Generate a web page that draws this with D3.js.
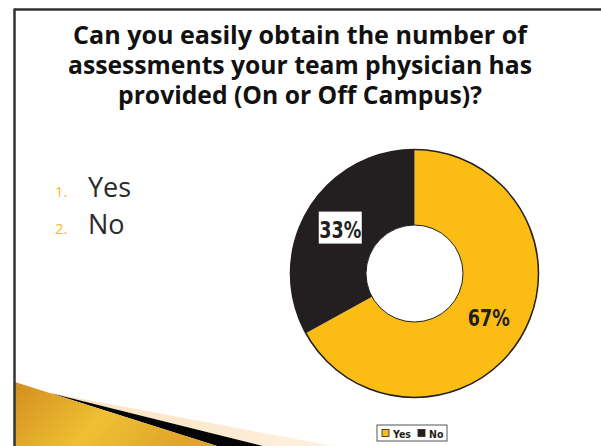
<!DOCTYPE html>
<html>
<head>
<meta charset="utf-8">
<script src="https://cdn.jsdelivr.net/npm/d3@7"></script>
<style>
  html, body { margin: 0; padding: 0; background: #fff; }
  svg { display: block; }
</style>
</head>
<body>
<svg id="slide" width="601" height="446"></svg>
<script>
// Survey answers and their shares (percent)
const categories = ["Yes", "No"];
const values = [67, 33];
const titleLines = [
  "Can you easily obtain the number of",
  "assessments your team physician has",
  "provided (On or Off Campus)?"
];
const listItems = ["Yes", "No"];

const W = 601, H = 446;
const svg = d3.select("#slide");

const defs = svg.append("defs");
const gold = defs.append("linearGradient").attr("id", "goldGrad")
  .attr("x1", "0%").attr("y1", "0%").attr("x2", "100%").attr("y2", "30%");
gold.append("stop").attr("offset", "0%").attr("stop-color", "#D38E1F");
gold.append("stop").attr("offset", "55%").attr("stop-color", "#EFC033");
gold.append("stop").attr("offset", "100%").attr("stop-color", "#E0A52A");
const peach = defs.append("linearGradient").attr("id", "peachGrad")
  .attr("x1", "0%").attr("y1", "0%").attr("x2", "100%").attr("y2", "0%");
peach.append("stop").attr("offset", "0%").attr("stop-color", "#FBE2BD");
peach.append("stop").attr("offset", "100%").attr("stop-color", "#FDF1DF");

// Decorative swoosh in the lower-left corner
const deco = svg.append("g");
deco.append("polygon").attr("points", "50,393 333,446 263,446").attr("fill", "url(#peachGrad)");
deco.append("polygon").attr("points", "50,393 263,446 217,446").attr("fill", "#050505");
deco.append("polygon").attr("points", "15,382 217,446 15,446").attr("fill", "url(#goldGrad)");

// Slide frame (top and left rules)
svg.append("line").attr("x1", 14.5).attr("x2", W).attr("y1", 9.5).attr("y2", 9.5)
  .attr("stroke", "#333").attr("stroke-width", 2.5);
svg.append("line").attr("x1", 14.5).attr("x2", 14.5).attr("y1", 8.5).attr("y2", H)
  .attr("stroke", "#333").attr("stroke-width", 2.5);

// Title
const title = svg.append("text")
  .attr("text-anchor", "middle")
  .attr("font-family", "'Open Sans', 'DejaVu Sans', sans-serif")
  .attr("font-weight", 700)
  .attr("font-size", 24.5)
  .attr("fill", "#111");
const titleWidths = [454, 464, 364];
titleLines.forEach((t, i) => {
  title.append("tspan")
    .attr("x", 300).attr("y", 44 + i * 30)
    .attr("textLength", titleWidths[i])
    .attr("lengthAdjust", "spacingAndGlyphs")
    .text(t);
});

// Numbered answer list
const list = svg.append("g");
listItems.forEach((t, i) => {
  const y = 197 + i * 37;
  list.append("text").attr("x", 55).attr("y", y)
    .attr("font-family", "'Open Sans', sans-serif").attr("font-size", 15)
    .attr("fill", "#F5B92A").text((i + 1) + ".");
  list.append("text").attr("x", 88).attr("y", y)
    .attr("font-family", "'Open Sans', sans-serif").attr("font-size", 27)
    .attr("fill", "#2A2A2A").text(t);
});

// Donut chart
const cx = 414.5, cy = 273.5, rOuter = 124, rInner = 48.5;
const color = d3.scaleOrdinal().domain(categories).range(["#FBBC14", "#231F20"]);
const pie = d3.pie().sort(null).value(d => d.value);
const arcs = pie(categories.map((c, i) => ({ cat: c, value: values[i] })));
const arc = d3.arc().innerRadius(rInner).outerRadius(rOuter);

const donut = svg.append("g").attr("transform", `translate(${cx},${cy})`);
donut.selectAll("path.slice").data(arcs).join("path")
  .attr("class", "slice")
  .attr("d", arc)
  .attr("fill", d => color(d.data.cat));
donut.append("circle").attr("r", rOuter).attr("fill", "none").attr("stroke", "#231F20").attr("stroke-width", 1.5);
donut.append("circle").attr("r", rInner).attr("fill", "none").attr("stroke", "#231F20").attr("stroke-width", 1);

const labelFont = "'Liberation Sans Narrow', 'DejaVu Sans Condensed', 'Arial Narrow', sans-serif";
arcs.forEach(d => {
  const [lx, ly] = arc.centroid(d);
  const g = donut.append("g").attr("transform", `translate(${lx},${ly})`);
  g.append("text")
    .attr("text-anchor", "middle").attr("dy", "0.36em")
    .attr("font-family", labelFont).attr("font-weight", 700)
    .attr("font-size", 23).attr("fill", "#231F20")
    .attr("textLength", 42).attr("lengthAdjust", "spacingAndGlyphs")
    .text(Math.round(d.data.value) + "%");
  if (d.data.cat === "No") {
    g.insert("rect", "text")
      .attr("x", -21.5).attr("y", -18)
      .attr("width", 43).attr("height", 32)
      .attr("fill", "#fff");
  }
});

// Chart legend
const lg = svg.append("g").attr("transform", "translate(377,425)");
lg.append("rect").attr("width", 70).attr("height", 16)
  .attr("fill", "#fff").attr("stroke", "#555").attr("stroke-width", 1);
const legendX = [5, 41];
categories.forEach((c, i) => {
  lg.append("rect").attr("x", legendX[i]).attr("y", 4.5).attr("width", 7).attr("height", 7)
    .attr("fill", color(c)).attr("stroke", "#231F20").attr("stroke-width", 0.8);
  lg.append("text").attr("x", legendX[i] + 11).attr("y", 12.5)
    .attr("font-family", labelFont).attr("font-weight", 700).attr("font-size", 10.5)
    .attr("fill", "#231F20").text(c);
});
</script>
</body>
</html>
